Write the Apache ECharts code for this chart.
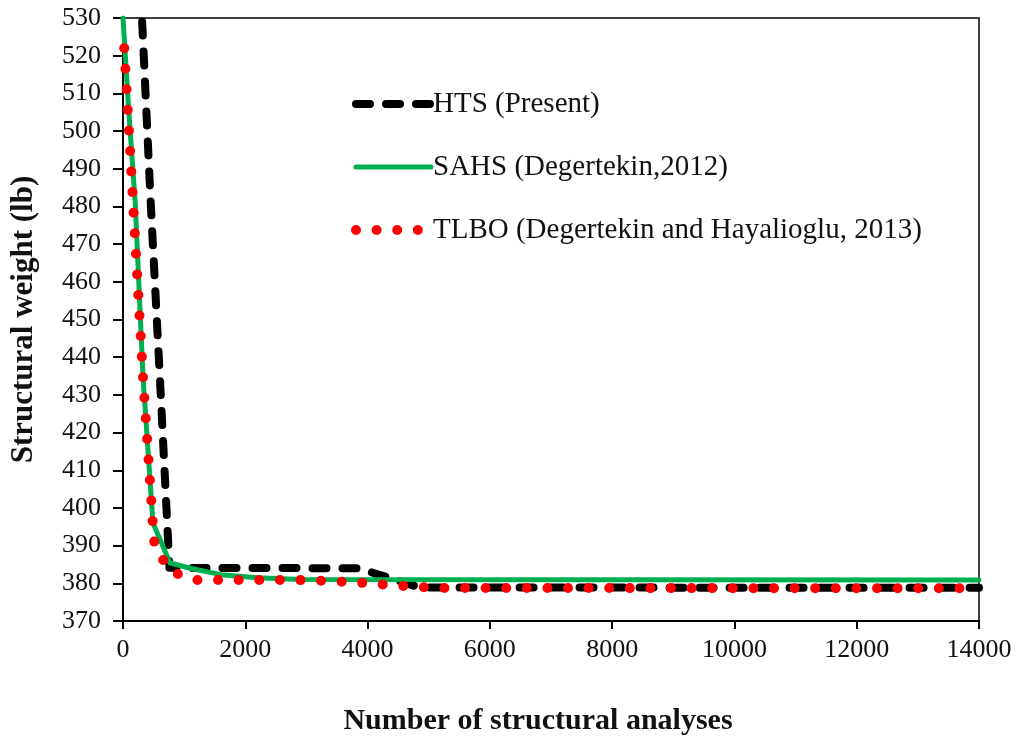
<!DOCTYPE html>
<html>
<head>
<meta charset="utf-8">
<script src="https://cdn.jsdelivr.net/npm/echarts@6/dist/echarts.min.js"></script>
<style>
  html, body { margin: 0; padding: 0; background: #fff; }
  #chart { width: 1016px; height: 736px; }
</style>
</head>
<body>
<div id="chart"></div>
<script>
// Series names
const seriesNames = ['HTS (Present)', 'SAHS (Degertekin,2012)', 'TLBO (Degertekin and Hayalioglu, 2013)'];

// HTS (Present)
const htsX = [290, 450, 605, 760, 3850, 4850, 14000];
const htsY = [537, 482, 434, 384.1, 384.0, 378.9, 378.8];

// SAHS (Degertekin, 2012)
const sahsX = [0, 100, 200, 330, 490, 770, 1100, 1600, 2200, 2900, 14000];
const sahsY = [530, 504, 481, 434, 396, 385.4, 384.0, 382.3, 381.5, 381.0, 380.9];

// TLBO (Degertekin and Hayalioglu, 2013)
const tlboX = [20, 330, 507, 638, 851, 1178, 2800, 3200, 3500, 3850, 4180, 4500, 4860, 5200, 14000];
const tlboY = [522, 434, 391.2, 386.5, 382.7, 380.9, 380.9, 380.7, 380.45, 380.2, 379.8, 379.4, 379.0, 378.75, 378.7];

// Axis ranges / ticks
const xMin = 0, xMax = 14000, xStep = 2000;
const yMin = 370, yMax = 530, yStep = 10;

const zip = (xs, ys) => xs.map((x, i) => [x, ys[i]]);

const FONT = '"Liberation Serif", "DejaVu Serif", serif';

const chart = echarts.init(document.getElementById('chart'), null, { renderer: 'canvas' });
chart.setOption({
  animation: false,
  backgroundColor: '#ffffff',
  grid: {
    left: 123, right: 37, top: 18, bottom: 115,
    outerBoundsMode: 'none',
    containLabel: false,
    show: true, borderColor: '#000', borderWidth: 1.5, backgroundColor: 'transparent'
  },
  legend: {
    orient: 'vertical',
    left: 346, top: 84,
    itemWidth: 75, itemHeight: 12,
    itemGap: 33,
    data: seriesNames,
    itemStyle: { opacity: 0 },
    lineStyle: { width: 'inherit', type: 'inherit', cap: 'round' },
    textStyle: { fontFamily: FONT, fontSize: 29, color: '#111', lineHeight: 30, padding: [0, 0, 0, -3] },
    selectedMode: false
  },
  xAxis: {
    type: 'value', min: xMin, max: xMax, interval: xStep,
    name: 'Number of structural analyses',
    nameLocation: 'middle', nameGap: 85,
    nameTextStyle: { fontFamily: FONT, fontSize: 30, fontWeight: 'bold', color: '#111', padding: [0, 26, 0, 0] },
    axisLine: { show: true, lineStyle: { color: '#000', width: 2 } },
    axisTick: { show: true, inside: false, length: 8, lineStyle: { color: '#000', width: 2 } },
    axisLabel: { fontFamily: FONT, fontSize: 26, color: '#111', margin: 16, formatter: v => String(v) },
    splitLine: { show: false }
  },
  yAxis: {
    type: 'value', min: yMin, max: yMax, interval: yStep,
    name: 'Structural weight (lb)',
    nameLocation: 'middle', nameGap: 84,
    nameTextStyle: { fontFamily: FONT, fontSize: 31, fontWeight: 'bold', color: '#111' },
    axisLine: { show: true, lineStyle: { color: '#000', width: 2 } },
    axisTick: { show: true, inside: false, length: 10, lineStyle: { color: '#000', width: 2 } },
    axisLabel: { fontFamily: FONT, fontSize: 26, color: '#111', margin: 22, formatter: v => String(v) },
    splitLine: { show: false }
  },
  series: [
    {
      name: seriesNames[0], type: 'line', data: zip(htsX, htsY),
      symbol: 'none', clip: true, z: 2,
      lineStyle: { color: '#000', width: 8, type: [14, 16], cap: 'round', join: 'round' },
      itemStyle: { color: '#000' }
    },
    {
      name: seriesNames[1], type: 'line', data: zip(sahsX, sahsY),
      symbol: 'none', clip: true, z: 3,
      lineStyle: { color: '#00B050', width: 5, type: 'solid', cap: 'round', join: 'round' },
      itemStyle: { color: '#00B050' }
    },
    {
      name: seriesNames[2], type: 'line', data: zip(tlboX, tlboY),
      symbol: 'none', clip: true, z: 4,
      lineStyle: { color: '#FF0000', width: 10, type: [0, 20.6], cap: 'round', join: 'round' },
      itemStyle: { color: '#FF0000' }
    }
  ]
});
</script>
</body>
</html>
